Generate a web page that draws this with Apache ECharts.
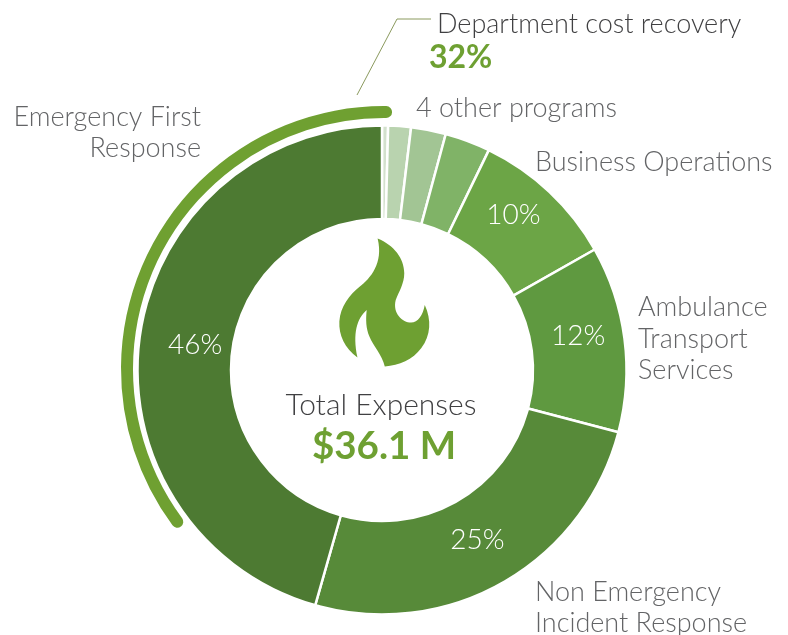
<!DOCTYPE html>
<html>
<head>
<meta charset="utf-8">
<title>Total Expenses</title>
<style>
  html, body { margin: 0; padding: 0; background: #fff; }
  #chart { width: 788px; height: 635px; }
</style>
<script src="https://cdn.jsdelivr.net/npm/echarts@6/dist/echarts.min.js"></script>
</head>
<body>
<div id="chart"></div>
<script>
// expense shares, clockwise from 12 o'clock
const programs = ['Program A', 'Program B', 'Program C', 'Program D', 'Business Operations', 'Ambulance Transport Services', 'Non Emergency Incident Response', 'Emergency First Response'];
const shares = [0.4, 1.5, 2.3, 3.0, 9.6, 12.3, 25.3, 45.6];
const shareLabels = ['', '', '', '', '10%', '12%', '25%', '46%'];
const sliceColors = ['#d3e1cd', '#b9d3af', '#a2c594', '#80b367', '#6ca546', '#5f9940', '#578a39', '#4d7a32'];
const labelNudges = [[0, 0], [0, 0], [0, 0], [0, 0], [-6, -9], [-3, -8], [-4, -4], [12, 3]];

// the outer arc, read as share of the full circle
const recoveryArc = [36, 64];

const FONT = 'Lato, "Noto Sans", sans-serif';
const GREY = '#636466';
const DARK = '#404042';
const GREEN = '#6ea032';

const flamePath = 'path://M322 55C370 75 400 115 400 160C400 190 385 215 375 240C365 280 395 308 420 308C440 308 455 285 460 255C480 300 478 345 450 385C425 420 385 437 343 440C335 405 310 380 298 350C288 325 287 300 290 270C262 295 248 340 263 413C225 385 208 345 210 305C213 260 240 225 270 200C300 175 340 130 322 55Z';

function text(x, y, str, color, size, align, weight) {
  return {
    type: 'text',
    x: x,
    y: y,
    silent: true,
    style: {
      text: str,
      fill: color,
      font: (weight || 300) + ' ' + size + 'px ' + FONT,
      textAlign: align || 'left',
      textVerticalAlign: 'middle'
    }
  };
}

const chart = echarts.init(document.getElementById('chart'), null, { renderer: 'canvas' });

chart.setOption({
  animation: false,
  backgroundColor: '#fff',
  // pixel sized axes, only there to place the flame icon
  grid: { left: 0, right: 0, top: 0, bottom: 0 },
  xAxis: { type: 'value', min: 0, max: 788, show: false },
  yAxis: { type: 'value', min: 0, max: 635, inverse: true, show: false },
  series: [
    {
      type: 'pie',
      silent: true,
      center: [382, 370],
      radius: [151, 244.5],
      startAngle: 90,
      avoidLabelOverlap: false,
      itemStyle: { borderColor: '#fff', borderWidth: 2.5 },
      label: {
        show: true,
        position: 'inside',
        color: '#fff',
        fontFamily: FONT,
        fontWeight: 300,
        fontSize: 28,
        formatter: p => shareLabels[p.dataIndex]
      },
      labelLine: { show: false },
      labelLayout: p => ({ dx: labelNudges[p.dataIndex][0], dy: labelNudges[p.dataIndex][1] }),
      data: shares.map((v, i) => ({
        name: programs[i],
        value: v,
        itemStyle: { color: sliceColors[i] }
      }))
    },
    {
      type: 'pie',
      silent: true,
      center: [384, 369],
      radius: [251, 263],
      startAngle: 88.2,
      clockwise: false,
      label: { show: false },
      labelLine: { show: false },
      itemStyle: { borderRadius: 6 },
      data: [
        { value: recoveryArc[0], name: 'Department cost recovery', itemStyle: { color: '#6fa031' } },
        { value: recoveryArc[1], name: 'rest', itemStyle: { color: 'transparent' } }
      ]
    },
    {
      type: 'scatter',
      silent: true,
      symbol: flamePath,
      symbolSize: [90, 128],
      itemStyle: { color: '#6ea032', opacity: 1 },
      data: [[384.3, 302.4]]
    }
  ],
  graphic: [
    {
      type: 'polyline',
      silent: true,
      shape: { points: [[357, 95], [397, 19], [431, 19]] },
      style: { stroke: '#8b9a5e', lineWidth: 1, fill: null }
    },
    text(437, 24, 'Department cost recovery', DARK, 27),
    text(429, 58, '32%', GREEN, 32, 'left', 700),
    text(416, 108, '4 other programs', GREY, 27),
    text(535, 162, 'Business Operations', GREY, 27),
    text(638, 307, 'Ambulance', GREY, 27),
    text(638, 339, 'Transport', GREY, 27),
    text(638, 370, 'Services', GREY, 27),
    text(535, 592, 'Non Emergency', GREY, 27),
    text(535, 623, 'Incident Response', GREY, 27),
    text(201, 117, 'Emergency First', GREY, 27, 'right'),
    text(201, 148, 'Response', GREY, 27, 'right'),
    text(381, 405, 'Total Expenses', DARK, 30, 'center'),
    text(384, 447, '$36.1 M', GREEN, 38.5, 'center', 700)
  ]
});
</script>
</body>
</html>
